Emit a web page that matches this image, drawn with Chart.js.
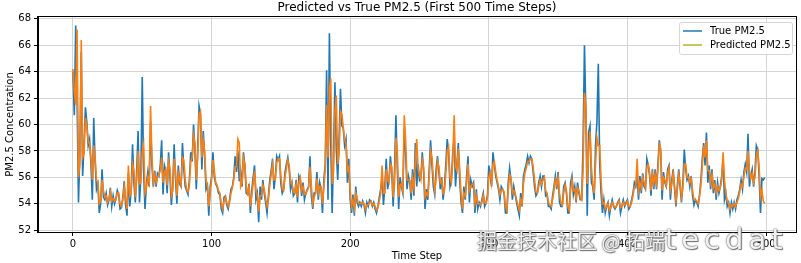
<!DOCTYPE html>
<html>
<head>
<meta charset="utf-8">
<script src="https://cdn.jsdelivr.net/npm/chart.js@4.4.0/dist/chart.umd.min.js"></script>
<style>
  html, body { margin: 0; padding: 0; background: #fff; }
  #wrap { position: relative; width: 801px; height: 263px; }
  #mark {
    position: absolute; left: 477px; top: 226px;
    font-family: "Noto Sans CJK SC", sans-serif; font-size: 20px; line-height: 26px;
    color: rgba(255, 255, 255, 0.92); white-space: nowrap;
    text-shadow: 0 0 1px #555, 0 0 2px #666, 1px 1px 1px #777;
  }
  #mark .latin { font-size: 29px; letter-spacing: 5px; font-family: "DejaVu Sans", sans-serif; }
</style>
</head>
<body>
<div id="wrap">
  <canvas id="chart" width="801" height="263"></canvas>
  <div id="mark">掘金技术社区 @ 拓端<span class="latin">tecdat</span></div>
</div>
<script>
// true PM2.5, one value per time step (0..499)
const trueVals = [
  64.0, 60.7, 67.5, 62.0, 54.1, 58.0, 65.5, 56.1, 58.5, 61.3,
  60.2, 58.4, 58.9, 57.0, 54.3, 60.5, 57.2, 55.1, 55.5, 53.3,
  54.0, 56.6, 54.5, 54.3, 54.8, 53.9, 54.3, 55.2, 53.8, 54.6,
  54.0, 54.4, 55.0, 54.7, 53.6, 53.7, 54.5, 55.7, 53.9, 53.1,
  56.3, 53.8, 55.0, 58.5, 55.6, 54.1, 56.5, 59.5, 54.1, 56.0,
  63.6, 56.4, 53.6, 55.5, 56.4, 55.3, 60.2, 56.9, 55.3, 56.5,
  55.3, 56.3, 56.1, 56.9, 58.8, 54.7, 56.9, 56.5, 54.8, 57.9,
  56.0, 53.9, 55.3, 58.5, 55.9, 54.0, 56.9, 55.5, 55.3, 58.6,
  56.6, 55.3, 55.0, 54.7, 55.8, 57.9, 57.2, 60.0, 58.0, 55.1,
  58.3, 61.4, 60.8, 56.6, 59.5, 57.6, 55.1, 55.4, 53.1, 55.3,
  56.0, 57.9, 56.0, 55.5, 55.3, 54.8, 54.7, 53.6, 53.3, 54.5,
  54.6, 53.9, 53.6, 54.3, 55.1, 55.3, 56.0, 57.6, 56.4, 58.0,
  55.7, 56.5, 55.3, 57.9, 56.9, 54.8, 54.7, 55.5, 53.3, 55.0,
  56.0, 56.9, 54.3, 54.8, 52.6, 55.3, 54.3, 55.8, 54.8, 54.1,
  53.3, 54.6, 55.8, 56.5, 57.4, 55.1, 56.0, 57.6, 57.3, 57.6,
  55.5, 54.8, 55.1, 56.4, 57.0, 57.5, 56.6, 55.1, 55.6, 54.6,
  54.8, 55.8, 54.1, 56.1, 55.8, 54.6, 55.6, 54.3, 54.8, 55.1,
  55.3, 57.6, 54.6, 53.6, 54.8, 54.8, 56.4, 54.3, 55.6, 55.1,
  53.3, 55.8, 57.0, 64.1, 54.3, 66.9, 58.5, 53.3, 57.9, 63.2,
  58.0, 55.8, 58.9, 62.7, 59.9, 59.7, 58.4, 58.9, 55.6, 57.4,
  54.3, 53.3, 54.7, 53.1, 55.3, 54.1, 53.8, 54.1, 53.8, 54.2,
  53.9, 53.3, 54.1, 53.8, 54.3, 54.2, 53.8, 54.1, 53.6, 53.3,
  53.8, 54.5, 55.1, 56.0, 53.9, 55.3, 57.4, 55.1, 55.8, 57.6,
  56.4, 53.8, 56.5, 60.7, 56.6, 53.6, 56.0, 55.3, 54.8, 59.7,
  57.9, 55.1, 56.1, 55.6, 54.3, 56.6, 54.6, 58.6, 55.3, 57.0,
  55.8, 56.0, 57.9, 56.4, 53.6, 55.1, 54.3, 56.6, 58.8, 56.9,
  55.3, 54.7, 56.6, 57.6, 56.4, 55.1, 56.0, 54.3, 55.3, 57.0,
  58.9, 57.9, 55.3, 55.8, 57.9, 59.0, 55.3, 57.0, 58.6, 55.8,
  54.1, 53.3, 55.3, 54.3, 56.1, 57.6, 54.1, 55.8, 55.3, 55.6,
  53.3, 55.1, 53.6, 54.1, 53.8, 54.3, 54.8, 53.8, 54.1, 54.6,
  56.9, 56.1, 55.3, 57.9, 56.9, 56.1, 55.6, 55.1, 54.3, 55.3,
  55.1, 54.8, 53.3, 53.3, 55.6, 56.7, 55.8, 54.3, 55.3, 54.7,
  54.1, 53.6, 53.1, 54.8, 53.8, 56.1, 56.6, 57.0, 57.6, 57.1,
  57.6, 57.4, 56.4, 55.3, 54.6, 54.8, 55.6, 56.1, 55.3, 56.1,
  56.1, 54.6, 54.7, 53.8, 53.8, 53.6, 54.6, 55.3, 56.1, 55.1,
  56.4, 54.1, 53.8, 53.8, 55.3, 55.6, 54.8, 53.3, 53.3, 55.6,
  56.1, 54.7, 55.3, 54.1, 55.6, 54.8, 54.3, 54.3, 58.4, 66.0,
  61.0, 53.1, 59.4, 59.9, 55.6, 55.3, 54.3, 58.4, 60.2, 64.6,
  57.0, 54.8, 53.3, 54.3, 53.3, 53.8, 54.1, 53.1, 53.8, 54.3,
  53.8, 53.6, 53.8, 54.1, 54.3, 53.3, 53.8, 54.3, 53.8, 54.1,
  54.3, 53.6, 53.8, 54.3, 54.8, 55.6, 55.3, 56.0, 54.3, 56.1,
  54.8, 56.3, 55.3, 55.1, 57.4, 56.9, 56.1, 54.6, 56.6, 55.1,
  56.6, 55.1, 57.0, 58.8, 57.9, 54.3, 56.4, 55.6, 55.3, 56.6,
  56.9, 54.3, 55.8, 56.6, 55.1, 53.8, 55.4, 56.6, 55.3, 54.1,
  55.6, 58.1, 56.6, 55.8, 56.1, 55.3, 56.1, 54.6, 53.9, 54.3,
  54.1, 53.8, 54.7, 55.8, 57.4, 58.6, 56.9, 59.4, 55.6, 56.9,
  55.1, 56.6, 54.8, 55.8, 54.3, 55.6, 54.8, 55.3, 56.1, 57.4,
  54.3, 54.8, 53.8, 54.1, 53.3, 54.1, 53.6, 54.1, 53.6, 54.3,
  54.6, 55.1, 55.8, 55.1, 56.4, 57.0, 56.4, 59.3, 55.3, 56.1,
  56.6, 55.3, 56.4, 58.4, 58.1, 56.1, 53.3, 55.9, 55.8, 56.0
]

// predicted PM2.5, same time steps
const predVals = [
  64.2, 62.5, 61.5, 67.2, 56.0, 57.0, 66.4, 57.5, 57.8, 60.5,
  59.8, 58.8, 58.5, 57.5, 55.8, 58.4, 57.5, 55.8, 55.6, 54.0,
  54.2, 55.8, 55.0, 54.5, 54.6, 54.1, 54.3, 54.9, 54.2, 54.4,
  54.2, 54.3, 54.8, 54.8, 54.0, 53.8, 54.3, 55.3, 54.4, 53.6,
  56.9, 54.6, 54.8, 57.0, 56.5, 54.5, 55.8, 58.0, 55.5, 55.6,
  57.9, 58.5, 54.8, 55.2, 56.0, 55.6, 61.4, 57.5, 55.6, 56.2,
  55.6, 56.0, 56.2, 56.5, 57.5, 55.6, 56.4, 56.6, 55.4, 57.2,
  56.6, 54.6, 55.0, 57.4, 56.5, 54.6, 56.3, 55.8, 55.4, 57.5,
  57.3, 55.8, 55.1, 54.9, 55.4, 57.2, 57.5, 59.2, 58.6, 55.8,
  57.5, 60.8, 61.0, 57.5, 58.8, 58.0, 55.8, 55.3, 53.8, 54.8,
  55.8, 57.3, 56.5, 55.6, 55.4, 55.0, 54.8, 54.0, 53.6, 54.2,
  54.5, 54.1, 53.8, 54.1, 54.8, 55.2, 55.8, 56.8, 56.8, 58.9,
  58.6, 55.3, 55.6, 57.5, 57.0, 55.3, 54.8, 55.3, 53.8, 54.6,
  55.5, 56.5, 55.0, 54.6, 53.4, 54.6, 54.6, 55.4, 55.1, 54.4,
  53.8, 54.3, 55.4, 56.2, 57.0, 55.8, 55.8, 57.1, 57.4, 57.4,
  56.1, 55.1, 55.0, 56.0, 56.7, 57.3, 56.9, 55.6, 55.5, 54.9,
  54.8, 55.5, 54.5, 55.6, 56.0, 55.0, 55.3, 54.7, 54.7, 55.0,
  55.2, 56.8, 55.3, 54.0, 54.5, 54.8, 55.9, 54.8, 55.3, 55.3,
  54.0, 55.2, 56.6, 61.5, 57.5, 62.8, 63.5, 55.5, 56.5, 61.0,
  62.2, 57.0, 57.8, 61.0, 60.8, 59.8, 58.8, 58.6, 56.5, 56.8,
  55.0, 53.8, 54.3, 53.6, 54.8, 54.4, 54.0, 54.0, 54.0, 54.1,
  54.0, 53.6, 53.9, 53.9, 54.1, 54.2, 53.9, 54.0, 53.8, 53.5,
  53.7, 54.2, 54.8, 56.9, 54.8, 54.8, 56.6, 55.8, 55.6, 57.0,
  56.8, 54.5, 55.6, 59.0, 58.0, 54.5, 55.4, 55.5, 55.0, 60.7,
  58.8, 55.8, 55.8, 55.8, 54.8, 55.9, 55.2, 57.2, 58.9, 56.6,
  56.2, 55.8, 57.3, 56.8, 54.5, 54.8, 54.6, 56.0, 58.0, 57.5,
  56.0, 55.0, 55.9, 57.2, 56.8, 55.6, 55.8, 54.8, 55.0, 56.3,
  58.0, 58.3, 56.0, 55.6, 57.2, 60.7, 56.8, 56.5, 58.2, 56.6,
  54.8, 53.6, 54.8, 54.6, 55.6, 57.0, 55.0, 55.3, 55.5, 55.5,
  54.0, 54.6, 54.0, 54.0, 53.9, 54.1, 54.6, 54.1, 54.0, 54.4,
  56.0, 56.4, 55.6, 57.0, 57.2, 56.4, 55.8, 55.3, 54.7, 55.0,
  55.1, 54.9, 53.8, 53.5, 55.0, 56.2, 56.0, 54.8, 55.0, 54.8,
  54.3, 53.9, 53.5, 54.3, 54.0, 55.5, 56.3, 56.7, 57.2, 57.2,
  57.4, 57.4, 56.8, 55.8, 54.9, 54.8, 55.3, 55.8, 55.5, 55.8,
  56.0, 55.0, 54.8, 54.1, 53.9, 53.8, 54.3, 55.0, 55.8, 55.4,
  56.0, 54.8, 54.1, 53.9, 54.8, 55.4, 55.0, 53.8, 53.5, 55.0,
  55.8, 55.0, 55.1, 54.4, 55.2, 55.0, 54.5, 54.3, 56.5, 62.4,
  61.5, 55.5, 58.0, 59.5, 56.8, 55.5, 54.8, 57.0, 59.0, 58.4,
  58.4, 55.8, 54.0, 54.1, 53.6, 53.8, 54.0, 53.5, 53.7, 54.1,
  53.9, 53.7, 53.8, 54.0, 54.2, 53.7, 53.8, 54.1, 53.9, 54.0,
  54.2, 53.8, 53.8, 54.1, 54.6, 55.3, 55.4, 57.4, 55.0, 55.6,
  55.2, 56.0, 55.6, 55.2, 56.8, 57.0, 56.4, 55.0, 56.2, 55.5,
  56.2, 55.5, 56.6, 58.5, 58.2, 55.0, 56.0, 55.8, 55.4, 56.3,
  56.7, 55.0, 55.5, 56.3, 55.4, 54.2, 55.0, 56.2, 55.6, 54.5,
  55.2, 57.0, 57.0, 56.0, 56.0, 55.6, 55.9, 55.0, 54.3, 54.3,
  54.2, 54.0, 54.5, 55.4, 56.8, 58.4, 57.5, 58.8, 56.5, 56.5,
  55.6, 56.2, 55.2, 55.5, 54.8, 55.3, 55.0, 55.2, 55.8, 57.9,
  55.8, 54.8, 54.2, 54.0, 53.6, 53.9, 53.8, 54.0, 53.8, 54.1,
  54.4, 54.9, 55.5, 55.3, 56.0, 56.7, 56.6, 58.0, 56.5, 55.9,
  56.3, 55.6, 56.0, 57.6, 58.0, 56.8, 54.5, 55.0, 54.2, 54.0
]

const xTicks = [0, 100, 200, 300, 400, 500]
const yTicks = [52, 54, 56, 58, 60, 62, 64, 66, 68]

const chartTitle = 'Predicted vs True PM2.5 (First 500 Time Steps)'
const seriesNames = ['True PM2.5', 'Predicted PM2.5']
const lineColors = ['#1f77b4', '#ff7f0e']
const legendColors = ['#1f77b4', '#bcb02a']

const font = 'DejaVu Sans'

const toPoints = vals => vals.map((v, i) => ({ x: i, y: v }))

// title centred over the plot area, like matplotlib does
const titlePlugin = {
   id: 'plotTitle',
   afterDraw(chart) {
      const { ctx, chartArea } = chart
      ctx.save()
      ctx.font = `12px "${font}"`
      ctx.fillStyle = '#000'
      ctx.textAlign = 'center'
      ctx.textBaseline = 'middle'
      ctx.fillText(chartTitle, (chartArea.left + chartArea.right) / 2, 8)
      ctx.restore()
   }
}

// closed black frame round the axes
const framePlugin = {
   id: 'frame',
   afterDatasetsDraw(chart) {
      const { ctx, chartArea: a } = chart
      ctx.save()
      ctx.strokeStyle = '#000'
      ctx.lineWidth = 1
      ctx.strokeRect(Math.round(a.left) - 0.5, Math.round(a.top) - 0.5, Math.round(a.right - a.left) + 1, Math.round(a.bottom - a.top) + 1)
      ctx.restore()
   }
}

const legendPlugin = {
   id: 'boxLegend',
   afterDraw(chart) {
      const { ctx, chartArea: a } = chart
      const w = 113, h = 32
      const x = a.right - 4 - w, y = a.top + 5
      ctx.save()
      ctx.beginPath()
      ctx.roundRect(x + 0.5, y + 0.5, w, h, 2)
      ctx.fillStyle = 'rgba(255,255,255,0.85)'
      ctx.fill()
      ctx.strokeStyle = '#d6d6d6'
      ctx.stroke()
      ctx.font = `10px "${font}"`
      ctx.textBaseline = 'middle'
      chart.data.datasets.forEach((ds, i) => {
         const cy = y + 9 + i * 14
         ctx.strokeStyle = legendColors[i]
         ctx.lineWidth = 1.5
         ctx.beginPath()
         ctx.moveTo(x + 4, cy)
         ctx.lineTo(x + 23, cy)
         ctx.stroke()
         ctx.fillStyle = '#000'
         ctx.fillText(ds.label, x + 31, cy)
      })
      ctx.restore()
   }
}

new Chart(document.getElementById('chart'), {
   type: 'line',
   data: {
      datasets: [
         // predicted is plotted over the true series, so it gets the lower order
         { label: seriesNames[0], data: toPoints(trueVals), borderColor: lineColors[0], borderWidth: 1.6, pointRadius: 0, tension: 0, order: 2 },
         { label: seriesNames[1], data: toPoints(predVals), borderColor: lineColors[1], borderWidth: 1.6, pointRadius: 0, tension: 0, order: 1 }
      ]
   },
   options: {
      responsive: false,
      animation: false,
      devicePixelRatio: 1,
      layout: { padding: { top: 17, right: 5, left: 0, bottom: 0 } },
      plugins: {
         legend: { display: false },
         title: { display: false },
         tooltip: { enabled: false }
      },
      scales: {
         x: {
            type: 'linear',
            min: -25.2,
            max: 521.6,
            afterBuildTicks: axis => { axis.ticks = xTicks.map(value => ({ value })) },
            afterFit: axis => { axis.height = 31 },
            grid: { color: '#d4d4d4', tickColor: '#000', tickLength: 4 },
            border: { color: '#000' },
            ticks: { color: '#000', font: { family: font, size: 10 }, padding: 2, maxRotation: 0 },
            title: { display: true, text: 'Time Step', color: '#000', font: { family: font, size: 10 }, padding: { top: 0, bottom: 1 } }
         },
         y: {
            min: 51.86,
            max: 68.14,
            afterBuildTicks: axis => { axis.ticks = yTicks.map(value => ({ value })) },
            afterFit: axis => { axis.width = 38 },
            grid: { color: '#d4d4d4', tickColor: '#000', tickLength: 4 },
            border: { color: '#000' },
            ticks: { color: '#000', font: { family: font, size: 10 }, padding: 3 },
            title: { display: true, text: 'PM2.5 Concentration', color: '#000', font: { family: font, size: 10 }, padding: { top: 4, bottom: 0 } }
         }
      }
   },
   plugins: [titlePlugin, framePlugin, legendPlugin]
})
</script>
</body>
</html>
